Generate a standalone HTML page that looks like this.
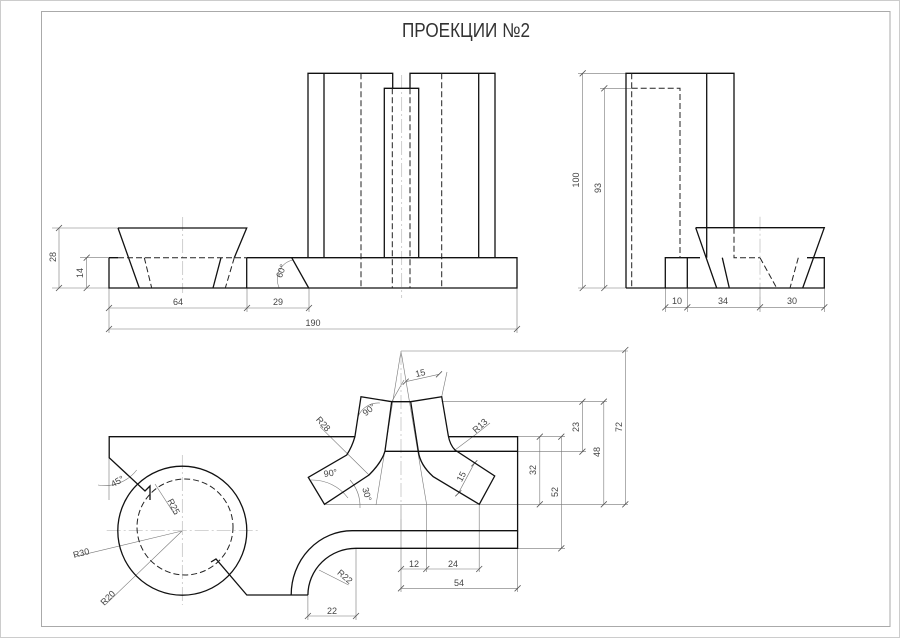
<!DOCTYPE html>
<html><head><meta charset="utf-8"><style>
html,body{margin:0;padding:0;background:#fff;}
svg{display:block;}
text{font-family:"Liberation Sans",sans-serif;fill:#444;}
</style></head><body>
<svg width="900" height="638" viewBox="0 0 900 638" xmlns="http://www.w3.org/2000/svg">
<rect x="0" y="0" width="900" height="638" fill="#fff"/>
<rect x="0.5" y="0.5" width="899" height="637" fill="none" stroke="#ccc" stroke-width="1"/>
<rect x="41.5" y="11.5" width="848.5" height="615" fill="none" stroke="#aaa" stroke-width="1"/>
<text x="466" y="37" font-size="20" text-anchor="middle" textLength="128" lengthAdjust="spacingAndGlyphs" style="fill:#333">ПРОЕКЦИИ №2</text>

<g stroke="#777" stroke-width="0.6" fill="none">
<line x1="59" y1="228" x2="59" y2="288"/><line x1="52" y1="228" x2="118" y2="228"/><line x1="52" y1="288" x2="109" y2="288"/>
<line x1="86.7" y1="257.7" x2="86.7" y2="288"/><line x1="80" y1="257.7" x2="109" y2="257.7"/>
<line x1="109" y1="288" x2="109" y2="333"/><line x1="247" y1="288" x2="247" y2="312"/><line x1="309" y1="288" x2="309" y2="312"/><line x1="517" y1="288" x2="517" y2="333"/>
<line x1="109" y1="308" x2="309" y2="308"/><line x1="109" y1="329" x2="517" y2="329"/>
<path d="M279.3,288 A20,20 0 0 1 292.7,260"/>
<line x1="582.7" y1="73.3" x2="582.7" y2="288"/><line x1="578" y1="73.3" x2="626" y2="73.3"/><line x1="578" y1="288" x2="626" y2="288"/>
<line x1="604.3" y1="88.3" x2="604.3" y2="288"/><line x1="600" y1="88.3" x2="632" y2="88.3"/>
<line x1="665.3" y1="288" x2="665.3" y2="312"/><line x1="687.3" y1="288" x2="687.3" y2="312"/><line x1="760" y1="288" x2="760" y2="312"/><line x1="824.3" y1="288" x2="824.3" y2="312"/>
<line x1="665.3" y1="307.3" x2="824.3" y2="307.3"/>
<line x1="401" y1="351" x2="628" y2="351"/>
<line x1="401" y1="351" x2="376" y2="505"/><line x1="401" y1="351" x2="426.7" y2="505"/>
<line x1="441.7" y1="401.7" x2="607" y2="401.7"/>
<line x1="517.6" y1="436.7" x2="565" y2="436.7"/><line x1="418" y1="451.7" x2="586" y2="451.7"/>
<line x1="325" y1="504.3" x2="628" y2="504.3"/><line x1="517.6" y1="548.3" x2="565" y2="548.3"/>
<line x1="625.3" y1="350" x2="625.3" y2="504.3"/><line x1="603.8" y1="401.7" x2="603.8" y2="504.3"/>
<line x1="582.4" y1="401.7" x2="582.4" y2="451.7"/><line x1="561.3" y1="436.7" x2="561.3" y2="548.3"/>
<line x1="539.8" y1="436.7" x2="539.8" y2="504.3"/>
<line x1="401" y1="505" x2="401" y2="592"/><line x1="426.3" y1="505" x2="426.3" y2="572"/><line x1="479.2" y1="505" x2="479.2" y2="572"/><line x1="517.6" y1="548.3" x2="517.6" y2="592"/>
<line x1="401" y1="569" x2="479.2" y2="569"/><line x1="401" y1="588.3" x2="517.6" y2="588.3"/>
<line x1="356" y1="548.3" x2="356" y2="620"/><line x1="307.9" y1="595" x2="307.9" y2="620"/><line x1="307.9" y1="616" x2="356" y2="616"/>
<line x1="441.7" y1="396.7" x2="447" y2="372"/><line x1="391.7" y1="401.7" x2="404" y2="380"/>
<line x1="405.7" y1="381.7" x2="439" y2="374.3"/>
<line x1="474.3" y1="463.3" x2="458.3" y2="493.3"/>
<line x1="320" y1="426.7" x2="369" y2="475"/>
<line x1="455" y1="450" x2="475" y2="435"/><line x1="475" y1="435" x2="490" y2="423"/>
<line x1="182" y1="531" x2="74.8" y2="556.7"/>
<line x1="182" y1="531" x2="105" y2="605"/>
<line x1="155" y1="484" x2="175" y2="515"/>
<line x1="319" y1="570" x2="348.6" y2="585"/>
<line x1="109" y1="457.7" x2="109" y2="500"/>
<path d="M98,485 A40,40 0 0 0 136.7,470"/>
<path d="M358,416.7 A22,22 0 0 1 380,403"/>
<path d="M311,480 A45,45 0 0 1 348,498"/>
<path d="M350,480 A40,40 0 0 1 360,508"/>
</g>
<g stroke="#bbb" stroke-width="0.7" fill="none" stroke-dasharray="14,3,2,3">
<line x1="182.7" y1="217" x2="182.7" y2="293"/>
<line x1="401.7" y1="75" x2="401.7" y2="298"/>
<line x1="760" y1="216.7" x2="760" y2="300"/>
<line x1="106.7" y1="530.7" x2="258" y2="530.7"/>
<line x1="182.3" y1="455" x2="182.3" y2="605"/>
<line x1="401" y1="351" x2="401" y2="520"/>
</g>
<g stroke="#555" stroke-width="0.8">
<path d="M56,231l6,-6M56,291l6,-6M83.7,260.7l6,-6M83.7,291l6,-6M106,311l6,-6M244,311l6,-6M306,311l6,-6M106,332l6,-6M514,332l6,-6M579.7,76.3l6,-6M579.7,291l6,-6M601.3,91.3l6,-6M601.3,291l6,-6M662.3,310.3l6,-6M684.3,310.3l6,-6M757,310.3l6,-6M821.3,310.3l6,-6M622.3,353l6,-6M622.3,507.3l6,-6M600.8,404.7l6,-6M600.8,507.3l6,-6M579.4,404.7l6,-6M579.4,454.7l6,-6M558.3,439.7l6,-6M558.3,551.3l6,-6M536.8,439.7l6,-6M536.8,507.3l6,-6M398,572l6,-6M423.3,572l6,-6M476.2,572l6,-6M398,591.3l6,-6M514.6,591.3l6,-6M304.9,619l6,-6M353,619l6,-6M402.7,384.7l6,-6M436,377.3l6,-6M471.3,466.3l6,-6M455.3,496.3l6,-6"/>
</g>
<g font-size="9">
<text x="56" y="257" transform="rotate(-90 56 257)" text-anchor="middle">28</text>
<text x="83" y="273" transform="rotate(-90 83 273)" text-anchor="middle">14</text>
<text x="178" y="305" text-anchor="middle">64</text>
<text x="278" y="305" text-anchor="middle">29</text>
<text x="313" y="326" text-anchor="middle">190</text>
<text x="284" y="272" transform="rotate(-70 284 272)" text-anchor="middle">60°</text>
<text x="579" y="180" transform="rotate(-90 579 180)" text-anchor="middle">100</text>
<text x="601" y="188" transform="rotate(-90 601 188)" text-anchor="middle">93</text>
<text x="677" y="304" text-anchor="middle">10</text>
<text x="723" y="304" text-anchor="middle">34</text>
<text x="792" y="304" text-anchor="middle">30</text>
<text x="622" y="427" transform="rotate(-90 622 427)" text-anchor="middle">72</text>
<text x="600" y="452" transform="rotate(-90 600 452)" text-anchor="middle">48</text>
<text x="579" y="427" transform="rotate(-90 579 427)" text-anchor="middle">23</text>
<text x="558" y="492" transform="rotate(-90 558 492)" text-anchor="middle">52</text>
<text x="536" y="470" transform="rotate(-90 536 470)" text-anchor="middle">32</text>
<text x="414" y="567" text-anchor="middle">12</text>
<text x="453" y="567" text-anchor="middle">24</text>
<text x="459" y="586" text-anchor="middle">54</text>
<text x="332" y="614" text-anchor="middle">22</text>
<text x="421" y="376" transform="rotate(-13 421 376)" text-anchor="middle">15</text>
<text x="464" y="478" transform="rotate(-62 464 478)" text-anchor="middle">15</text>
<text x="321" y="426" transform="rotate(48 321 426)" text-anchor="middle">R28</text>
<text x="482" y="428" transform="rotate(-42 482 428)" text-anchor="middle">R13</text>
<text x="371" y="412" transform="rotate(-40 371 412)" text-anchor="middle">90°</text>
<text x="331" y="476" transform="rotate(-10 331 476)" text-anchor="middle">90°</text>
<text x="364" y="495" transform="rotate(75 364 495)" text-anchor="middle">30°</text>
<text x="119" y="484" transform="rotate(-30 119 484)" text-anchor="middle">45°</text>
<text x="171" y="508" transform="rotate(62 171 508)" text-anchor="middle">R25</text>
<text x="82" y="556" transform="rotate(-15 82 556)" text-anchor="middle">R30</text>
<text x="110" y="600" transform="rotate(-45 110 600)" text-anchor="middle">R20</text>
<text x="343" y="579" transform="rotate(40 343 579)" text-anchor="middle">R22</text>
</g>

<g stroke="#111" stroke-width="1.3" fill="none">
<path d="M109,257.7 H118 M109,257.7 V288 H517 V257.7 H495 M246.7,257.7 H308"/>
<path d="M118,228 H246.7 L234.3,257.7 M118,228 L139.3,288"/>
<line x1="221" y1="257.7" x2="213" y2="288"/>
<line x1="246.7" y1="257.7" x2="246.7" y2="288"/>
<line x1="291.7" y1="257.7" x2="308.7" y2="288"/>
<path d="M308,257.7 V73.3 H392.7 V88.3 M324,73.3 V257.7 M410,88.3 V73.3 H495 V257.7 M478.7,73.3 V257.7"/>
<path d="M384.3,257.7 V88.3 H418.7 V257.7 M308,257.7 H495"/>
<path d="M626,288 V73.3 H734 V227.7 M706.7,73.3 V257.7 M626,288 H824.3 V257.7 H807 M665.3,288 V257.7 H700 M687.3,257.7 V288"/>
<path d="M695.7,227.7 H824.3 L802.7,288 M695.7,227.7 L716.7,288 M722.3,257.7 L729.3,288"/>
<path d="M354.9,436.7 H109.2 V457.7 L145,491 L150,486 L150,500"/>
<path d="M211,562 L216,559 L246.8,595 H307.9"/>
<circle cx="182.3" cy="530.7" r="64.5"/>
<path d="M291.2,595 A61,64 0 0 1 352.3,530.7 H517.6 V436.7 H448.5"/>
<path d="M307.9,595 A48,47 0 0 1 356,548.3 H517.6 V530.7"/>
<line x1="385" y1="451.3" x2="517.6" y2="451.3"/>
<path d="M391.7,401.7 L361,396.7 L354.9,436.7 Q352,447 346.7,455 L308.3,477.3 L324.5,504.3 L369,475 Q382,462 385,451 L391.7,401.7 H410.7 L441.7,396.7 L448.3,435.7 Q450,445 455,450 L494.7,476 L479.3,504.3 L433.3,476.7 Q420,465 418.3,451 L410.7,401.7"/>
</g>
<g stroke="#222" stroke-width="1" fill="none" stroke-dasharray="6,3">
<path d="M118,257.7 H246.7"/>
<line x1="144.3" y1="257.7" x2="151.7" y2="288"/>
<line x1="234.3" y1="257.7" x2="225.3" y2="288"/>
<line x1="361" y1="73.3" x2="361" y2="288"/>
<line x1="441.7" y1="73.3" x2="441.7" y2="288"/>
<line x1="392.3" y1="88.3" x2="392.3" y2="288"/>
<line x1="410" y1="88.3" x2="410" y2="288"/>
<path d="M631.7,73.3 V288 M631.7,88.3 H680 V257.7"/>
<path d="M734,227.7 V257.7 H760"/>
<line x1="760" y1="257.7" x2="776.7" y2="288"/>
<line x1="798.3" y1="257.7" x2="790" y2="288"/>
<circle cx="185" cy="527" r="48"/>
</g>
</svg>
</body></html>
